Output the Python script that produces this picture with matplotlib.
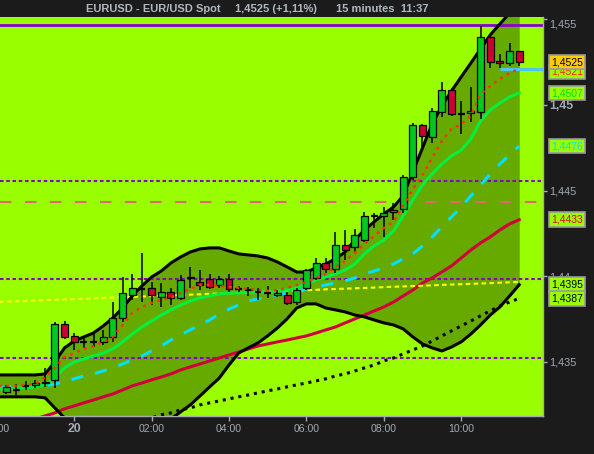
import numpy as np
import matplotlib
matplotlib.use('Agg')
import matplotlib.pyplot as plt
import matplotlib.transforms as mtransforms

plt.rcParams['font.family'] = ['Liberation Sans', 'DejaVu Sans']

# 15-minute bars, hours relative to midnight of the 20th (22:00 .. 11:30)
hours = np.arange(-2.0, 11.51, 0.25)

open_ = [1.43341, 1.43324, 1.43335, 1.43359, 1.43365, 1.43376, 1.43394, 1.43721, 1.43651, 1.43616,
         1.43616, 1.43616, 1.43645, 1.43756, 1.43890, 1.43925, 1.43931, 1.43878, 1.43908, 1.43873,
         1.43990, 1.43966, 1.43984, 1.43949, 1.43984, 1.43925, 1.43925, 1.43908, 1.43902, 1.43890,
         1.43890, 1.43849, 1.43931, 1.43990, 1.44077, 1.44042, 1.44182, 1.44171, 1.44211, 1.44352,
         1.44352, 1.44375, 1.44393, 1.44579, 1.44883, 1.44813, 1.44959, 1.45088, 1.44947, 1.44953,
         1.44959, 1.45397, 1.45257, 1.45245, 1.45315]
high = [1.43359, 1.43365, 1.43370, 1.43388, 1.43394, 1.43464, 1.43732, 1.43738, 1.43668, 1.43651,
        1.43668, 1.43686, 1.43849, 1.43995, 1.44013, 1.44136, 1.43966, 1.43960, 1.43931, 1.44007,
        1.44054, 1.44036, 1.44013, 1.44001, 1.44013, 1.43943, 1.43937, 1.43931, 1.43943, 1.43919,
        1.43908, 1.43931, 1.44042, 1.44106, 1.44106, 1.44258, 1.44270, 1.44276, 1.44375, 1.44369,
        1.44404, 1.44428, 1.44591, 1.44895, 1.44889, 1.44982, 1.45134, 1.45099, 1.45023, 1.45105,
        1.45461, 1.45397, 1.45298, 1.45362, 1.45315]
low = [1.43324, 1.43312, 1.43306, 1.43335, 1.43347, 1.43353, 1.43347, 1.43633, 1.43569, 1.43581,
       1.43586, 1.43598, 1.43616, 1.43732, 1.43861, 1.43849, 1.43832, 1.43820, 1.43832, 1.43861,
       1.43931, 1.43919, 1.43925, 1.43931, 1.43908, 1.43908, 1.43884, 1.43861, 1.43873, 1.43878,
       1.43832, 1.43832, 1.43919, 1.43978, 1.44019, 1.44019, 1.44095, 1.44141, 1.44200, 1.44282,
       1.44229, 1.44328, 1.44369, 1.44562, 1.44755, 1.44778, 1.44930, 1.44936, 1.44831, 1.44901,
       1.44918, 1.45216, 1.45216, 1.45228, 1.45228]
close = [1.43341, 1.43353, 1.43335, 1.43359, 1.43376, 1.43382, 1.43721, 1.43645, 1.43616, 1.43616,
         1.43616, 1.43645, 1.43756, 1.43902, 1.43931, 1.43925, 1.43890, 1.43908, 1.43873, 1.43978,
         1.43995, 1.43949, 1.43937, 1.43984, 1.43925, 1.43925, 1.43919, 1.43908, 1.43902, 1.43902,
         1.43843, 1.43919, 1.44036, 1.44077, 1.44042, 1.44182, 1.44153, 1.44241, 1.44352, 1.44352,
         1.44369, 1.44387, 1.44579, 1.44883, 1.44819, 1.44965, 1.45088, 1.44947, 1.44947, 1.44965,
         1.45397, 1.45251, 1.45245, 1.45315, 1.45250]

# Bollinger bands
bb_upper = [1.43423, 1.43423, 1.43423, 1.43423, 1.43423, 1.43429, 1.43499, 1.43581, 1.43621, 1.43645,
            1.43668, 1.43709, 1.43756, 1.43814, 1.43884, 1.43943, 1.43995, 1.44030, 1.44077, 1.44112,
            1.44141, 1.44159, 1.44165, 1.44165, 1.44147, 1.44130, 1.44124, 1.44118, 1.44106, 1.44083,
            1.44054, 1.44024, 1.44024, 1.44048, 1.44071, 1.44101, 1.44141, 1.44211, 1.44270, 1.44317,
            1.44363, 1.44404, 1.44469, 1.44609, 1.44749, 1.44889, 1.44994, 1.45082, 1.45164, 1.45245,
            1.45327, 1.45409, 1.45473, 1.45537, 1.45590]
bb_lower = [1.43295, 1.43295, 1.43295, 1.43295, 1.43295, 1.43289, 1.43230, 1.43172, 1.43131, 1.43113,
            1.43102, 1.43090, 1.43078, 1.43067, 1.43067, 1.43078, 1.43102, 1.43131, 1.43166, 1.43207,
            1.43248, 1.43300, 1.43353, 1.43405, 1.43481, 1.43551, 1.43581, 1.43610, 1.43651, 1.43697,
            1.43750, 1.43814, 1.43838, 1.43838, 1.43814, 1.43803, 1.43791, 1.43773, 1.43762, 1.43744,
            1.43727, 1.43715, 1.43692, 1.43645, 1.43604, 1.43581, 1.43563, 1.43586, 1.43616, 1.43662,
            1.43715, 1.43773, 1.43820, 1.43884, 1.43950]
bb_mid = [1.43347, 1.43353, 1.43353, 1.43353, 1.43359, 1.43359, 1.43370, 1.43382, 1.43400, 1.43417,
          1.43429, 1.43446, 1.43464, 1.43487, 1.43511, 1.43534, 1.43563, 1.43592, 1.43627, 1.43657,
          1.43686, 1.43715, 1.43744, 1.43779, 1.43808, 1.43832, 1.43855, 1.43867, 1.43878, 1.43890,
          1.43902, 1.43914, 1.43925, 1.43937, 1.43949, 1.43960, 1.43972, 1.43990, 1.44013, 1.44030,
          1.44048, 1.44071, 1.44101, 1.44130, 1.44177, 1.44229, 1.44288, 1.44346, 1.44404, 1.44469,
          1.44533, 1.44597, 1.44655, 1.44708, 1.44760]

# moving averages
ma_fast = [1.43359, 1.43359, 1.43359, 1.43365, 1.43370, 1.43411, 1.43464, 1.43528, 1.43551, 1.43575,
           1.43592, 1.43616, 1.43645, 1.43715, 1.43785, 1.43820, 1.43843, 1.43861, 1.43873, 1.43902,
           1.43925, 1.43949, 1.43949, 1.43943, 1.43937, 1.43931, 1.43925, 1.43919, 1.43914, 1.43919,
           1.43931, 1.43949, 1.43966, 1.43990, 1.44013, 1.44054, 1.44089, 1.44136, 1.44188, 1.44235,
           1.44282, 1.44317, 1.44410, 1.44509, 1.44591, 1.44691, 1.44790, 1.44860, 1.44889, 1.44936,
           1.45064, 1.45111, 1.45152, 1.45187, 1.45210]
ma_green = [1.43341, 1.43341, 1.43347, 1.43347, 1.43353, 1.43365, 1.43405, 1.43464, 1.43499, 1.43516,
            1.43534, 1.43551, 1.43575, 1.43616, 1.43662, 1.43703, 1.43738, 1.43773, 1.43803, 1.43832,
            1.43855, 1.43873, 1.43884, 1.43896, 1.43902, 1.43902, 1.43908, 1.43908, 1.43908, 1.43914,
            1.43919, 1.43931, 1.43954, 1.43978, 1.43995, 1.44013, 1.44036, 1.44071, 1.44130, 1.44177,
            1.44211, 1.44264, 1.44352, 1.44445, 1.44533, 1.44597, 1.44655, 1.44702, 1.44737, 1.44801,
            1.44907, 1.44971, 1.45011, 1.45047, 1.45070]
ma_red = [1.43113, 1.43125, 1.43137, 1.43154, 1.43166, 1.43184, 1.43201, 1.43225, 1.43242, 1.43260,
          1.43277, 1.43295, 1.43312, 1.43335, 1.43359, 1.43376, 1.43394, 1.43411, 1.43429, 1.43452,
          1.43470, 1.43487, 1.43505, 1.43522, 1.43540, 1.43557, 1.43575, 1.43592, 1.43604, 1.43616,
          1.43627, 1.43639, 1.43651, 1.43668, 1.43686, 1.43703, 1.43727, 1.43750, 1.43773, 1.43797,
          1.43820, 1.43849, 1.43884, 1.43919, 1.43960, 1.43990, 1.44024, 1.44060, 1.44106, 1.44153,
          1.44194, 1.44229, 1.44270, 1.44305, 1.44330]
ma_black = [1.42926, 1.42938, 1.42956, 1.42973, 1.42985, 1.43002, 1.43020, 1.43037, 1.43049, 1.43067,
            1.43078, 1.43096, 1.43113, 1.43125, 1.43143, 1.43154, 1.43172, 1.43190, 1.43201, 1.43219,
            1.43230, 1.43248, 1.43260, 1.43271, 1.43283, 1.43295, 1.43306, 1.43318, 1.43330, 1.43341,
            1.43353, 1.43365, 1.43376, 1.43388, 1.43400, 1.43417, 1.43429, 1.43446, 1.43464, 1.43481,
            1.43505, 1.43522, 1.43546, 1.43569, 1.43592, 1.43621, 1.43651, 1.43680, 1.43709, 1.43738,
            1.43768, 1.43797, 1.43826, 1.43849, 1.43870]
ma_yellow = [1.43849, 1.43851, 1.43853, 1.43855, 1.43858, 1.43860, 1.43862, 1.43864, 1.43866, 1.43868,
             1.43871, 1.43873, 1.43875, 1.43877, 1.43879, 1.43881, 1.43884, 1.43886, 1.43888, 1.43890,
             1.43892, 1.43894, 1.43897, 1.43899, 1.43901, 1.43903, 1.43905, 1.43907, 1.43910, 1.43912,
             1.43914, 1.43916, 1.43918, 1.43920, 1.43923, 1.43925, 1.43927, 1.43929, 1.43931, 1.43933,
             1.43936, 1.43938, 1.43940, 1.43942, 1.43944, 1.43946, 1.43949, 1.43951, 1.43953, 1.43955,
             1.43957, 1.43959, 1.43962, 1.43964, 1.43966]

# horizontal levels
level_top = 1.4547
levels_dotted = [1.44556, 1.43984, 1.43524]
level_dashed = 1.44435
bid_level = 1.4521

# last-value boxes on the price scale
box_text = ['1,4521', '1,4525', '1,4507', '1,4476', '1,4433', '1,4395', '1,4387']
box_value = [1.45193, 1.4525, 1.4507, 1.4476, 1.4433, 1.4395, 1.4387]
box_fg = ['#ff2020', 'black', '#00e000', '#00e0ff', '#e00030', 'black', 'black']
box_bg = ['#99ff00', '#ffcc00', '#99ff00', '#99ff00', '#99ff00', '#99ff00', '#99ff00']

yticks = [1.435, 1.44, 1.445, 1.45, 1.455]
ytick_labels = ['1,435', '1,44', '1,445', '1,45', '1,455']
xticks = [0, 2, 4, 6, 8, 10]
xtick_labels = ['20', '02:00', '04:00', '06:00', '08:00', '10:00']

BG = '#1b1b1b'
LIME = '#99ff00'
BAND = '#66aa00'
PURPLE = '#8800cc'
PINK = '#dd6a6a'
GREY = '#a3acb5'

fig = plt.figure(figsize=(5.94, 4.54), dpi=100, facecolor=BG)
ax = fig.add_axes([0, 38 / 454, 543 / 594, 399 / 454])
ax.set_facecolor(LIME)
ax.set_xlim(-1.917, 12.114)
ax.set_ylim(1.43183, 1.45514)

ax.fill_between(hours, bb_lower, bb_upper, color=BAND, lw=0, zorder=1)
for lv in levels_dotted:
    ax.axhline(lv, color=PURPLE, lw=1.5, ls=(0, (1.7, 1.3)), zorder=2)
ax.axhline(level_dashed, color=PINK, lw=1.5, ls=(0, (5.5, 6.5)), zorder=2)
ax.axhline(level_top, color=PURPLE, lw=2.0, zorder=2)

ax.plot(hours, ma_red, color='#d0003c', lw=2.2, zorder=3)
ax.plot(hours, ma_yellow, color='#ffff00', lw=1.5, ls=(0, (2.2, 1.6)), zorder=3)
ax.plot(hours, ma_black, color='black', lw=2.2, ls=(0, (1, 1.6)), zorder=3)
ax.plot(hours, bb_mid, color='#00e0ff', lw=2.2, ls=(0, (4, 4)), zorder=3)
ax.plot(hours, bb_upper, color='black', lw=2.2, zorder=3)
ax.plot(hours, bb_lower, color='black', lw=2.2, zorder=3)
ax.plot(hours, ma_green, color='#00f040', lw=2.2, zorder=3)
ax.hlines(bid_level, hours[-3], 12.114, color='#4fc3f7', lw=2.2, zorder=3)

# candles
o, h, l, c = (np.array(a) for a in (open_, high, low, close))
up = c > o + 1e-5
dn = c < o - 1e-5
flat = ~(up | dn)
ax.vlines(hours, l, h, color='black', lw=1.1, zorder=4)
ax.bar(hours[up], c[up] - o[up], bottom=o[up], width=0.18, color='#00c81e',
       edgecolor='black', lw=0.9, zorder=4)
ax.bar(hours[dn], o[dn] - c[dn], bottom=c[dn], width=0.18, color='#cc0033',
       edgecolor='black', lw=0.9, zorder=4)
ax.hlines(c[flat], hours[flat] - 0.09, hours[flat] + 0.09, color='black', lw=1.6, zorder=4)

ax.plot(hours, ma_fast, color='#ff3300', lw=1.8, ls=(0, (1.1, 1.9)), zorder=5)

# axes cosmetics
for s in ('top', 'left'):
    ax.spines[s].set_visible(False)
for s in ('right', 'bottom'):
    ax.spines[s].set_color(GREY)
    ax.spines[s].set_linewidth(1.0)
ax.yaxis.tick_right()
ax.set_yticks(yticks, ytick_labels)
ax.set_xticks(xticks, xtick_labels)
ax.tick_params(axis='y', colors=GREY, labelsize=7.8, length=3.0, width=1, pad=1.5)
ax.tick_params(axis='x', colors=GREY, labelsize=7.6, length=3.6, width=1, pad=1.8)
for t in ax.get_yticklabels():
    if t.get_text() == '1,45':
        t.set_fontweight('bold')
        t.set_fontsize(8.8)
    if t.get_text() == '1,455':
        t.set_verticalalignment('top')
ax.get_xticklabels()[0].set_fontweight('bold')
ax.get_xticklabels()[0].set_fontsize(8.8)

ax.annotate('22:00', xy=(-2, 0), xycoords=('data', 'axes fraction'), xytext=(0, -5.4),
            textcoords='offset points', ha='center', va='top', fontsize=7.6,
            color=GREY, annotation_clip=False)

trans = mtransforms.blended_transform_factory(ax.transAxes, ax.transData)
for txt, val, fg, bg in zip(box_text, box_value, box_fg, box_bg):
    ax.text(551 / 543, val, txt, transform=trans, ha='left', va='center',
            fontsize=7.5, color=fg, clip_on=False, zorder=10,
            bbox=dict(boxstyle='square,pad=0.22', fc=bg, ec='#9a9a9a', lw=1.2))

# title bar
ty = 1 - 9.5 / 454
fig.text(86 / 594, ty, 'EURUSD - EUR/USD Spot', color='#b0b8c0', fontsize=8,
         fontweight='bold', va='center', ha='left')
fig.text(235 / 594, ty, '1,4525 (+1,11%)', color='#b0b8c0', fontsize=8,
         fontweight='bold', va='center', ha='left')
fig.text(336 / 594, ty, '15 minutes  11:37', color='#b0b8c0', fontsize=8,
         fontweight='bold', va='center', ha='left')

fig.savefig('out.png', dpi=100, facecolor=BG)
